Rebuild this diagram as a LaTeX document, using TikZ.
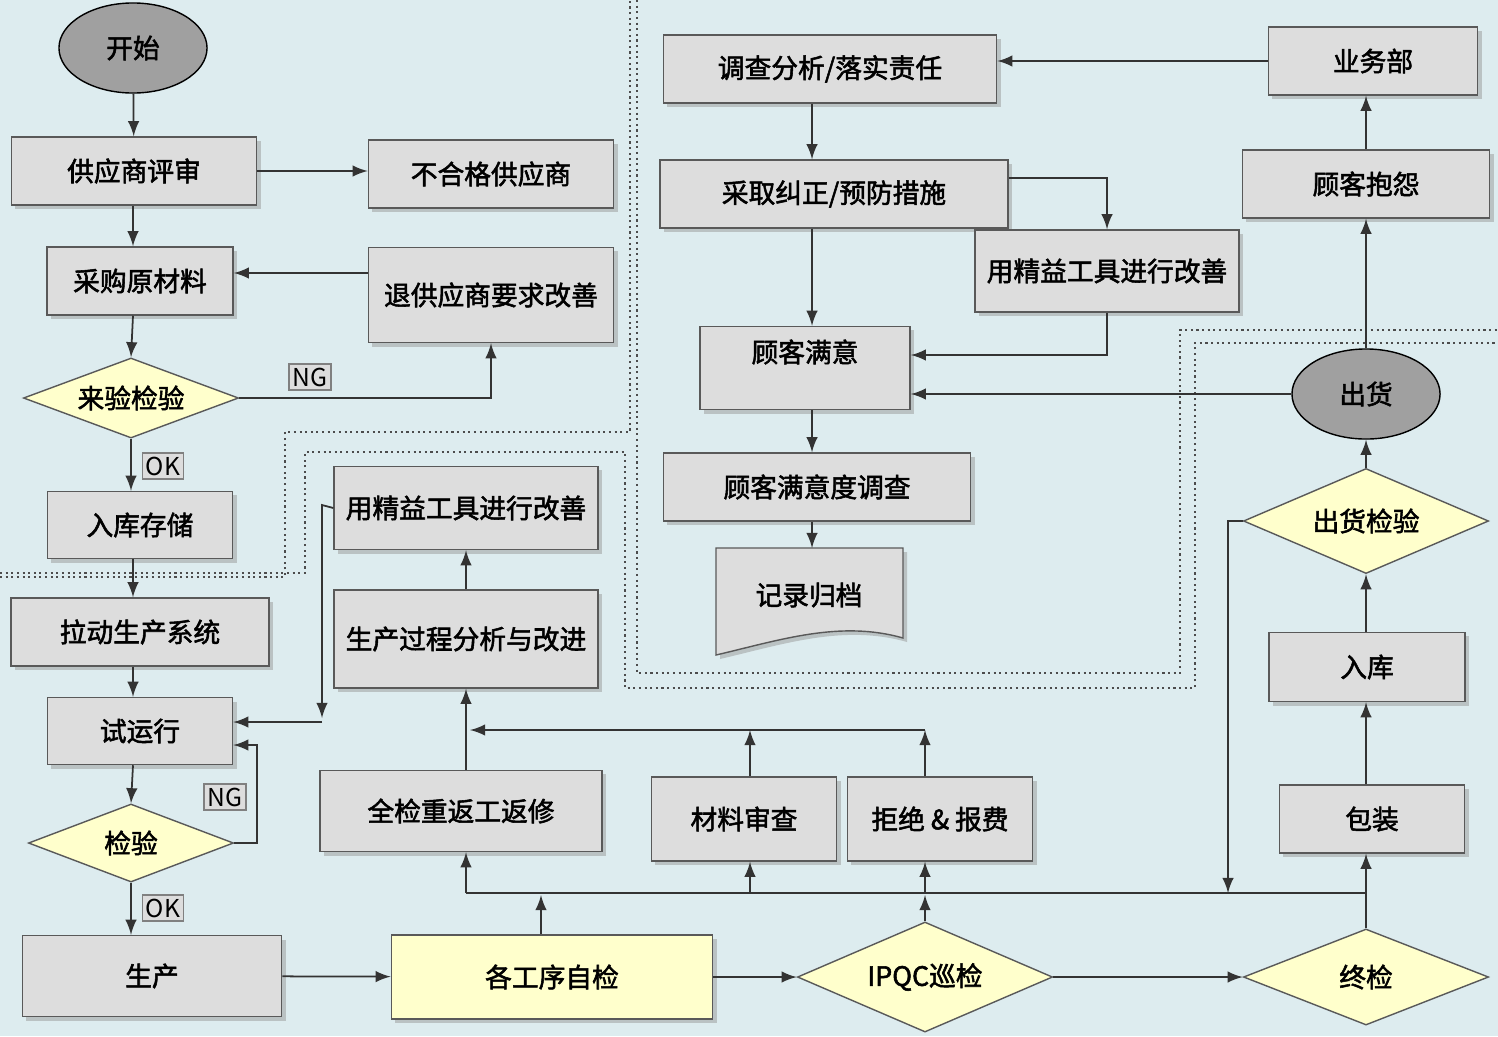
\documentclass[tikz,border=0pt]{standalone}
\usepackage{fontspec}
\setmainfont{Noto Sans CJK SC}[AutoFakeBold=2]
\usetikzlibrary{shapes.geometric,shadows}
\definecolor{bgblue}{RGB}{221,236,239}
\definecolor{boxgray}{RGB}{221,221,221}
\definecolor{dia}{RGB}{255,255,204}
\definecolor{ovalgray}{RGB}{160,160,160}
\tikzset{
  every node/.style={font=\fontsize{7.6pt}{9pt}\selectfont\bfseries},
  box/.style 2 args={rectangle,draw=gray!70!black,fill=boxgray,minimum width=#1,minimum height=#2,
    drop shadow={shadow xshift=0.4mm,shadow yshift=-0.4mm,fill=gray!80}},
  ybox/.style 2 args={box={#1}{#2},fill=dia},
  dec/.style 2 args={diamond,draw=gray!70!black,fill=dia,aspect=2.4,minimum width=#1,minimum height=#2,inner sep=0pt},
  oval/.style={ellipse,draw=black,fill=ovalgray,minimum width=1.48cm,minimum height=0.9cm},
  arr/.style={-latex,draw=black!80,line width=0.5pt},
  ln/.style={draw=black!80,line width=0.5pt},
  tag/.style={draw=gray,fill=boxgray,inner sep=1pt,font=\fontsize{7pt}{8pt}\selectfont},
  zone/.style={densely dotted,draw=black!70,line width=0.6pt}
}
\begin{document}
\begin{tikzpicture}[x=0.01cm,y=-0.01cm]
\fill[bgblue] (0,0) rectangle (1498,1036);
\useasboundingbox (0,0) rectangle (1498,1036);
% zones
\draw[zone] (0,573) -- (305,573) -- (305,452) -- (625,452) -- (625,688) -- (1195,688) -- (1195,343) -- (1498,343);
\draw[zone] (0,577) -- (285,577) -- (285,432) -- (630,432) -- (630,0);
\draw[zone] (637,0) -- (637,673) -- (1180,673) -- (1180,330) -- (1498,330);
% left column
\node[oval] (start) at (133,48) {开始};
\node[box={2.45cm}{0.68cm}] (supEval) at (134,171) {供应商评审};
\node[box={2.45cm}{0.68cm}] (badSup) at (491,174) {不合格供应商};
\node[box={1.86cm}{0.68cm}] (buy) at (140,281) {采购原材料};
\node[box={2.45cm}{0.95cm}] (retSup) at (491,295) {退供应商要求改善};
\node[dec={2.15cm}{0.8cm}] (inspect) at (131,398) {来验检验};
\node[box={1.85cm}{0.67cm}] (store) at (140,525) {入库存储};
\node[box={2.58cm}{0.68cm}] (pull) at (140,632) {拉动生产系统};
\node[box={1.85cm}{0.67cm}] (trial) at (140,731) {试运行};
\node[dec={2.05cm}{0.78cm}] (check) at (131,843) {检验};
\node[box={2.59cm}{0.81cm}] (prod) at (152,976) {生产};
% bottom row
\node[ybox={3.21cm}{0.84cm}] (selfChk) at (552,977) {各工序自检};
\node[dec={2.55cm}{1.1cm}] (ipqc) at (925,977) {IPQC巡检};
\node[dec={2.45cm}{0.96cm}] (finalChk) at (1366,977) {终检};
\node[box={2.82cm}{0.81cm}] (rework) at (461,811) {全检重返工返修};
\node[box={1.85cm}{0.84cm}] (matRev) at (744,819) {材料审查};
\node[box={1.85cm}{0.84cm}] (reject) at (940,819) {拒绝 \& 报费};
\node[box={2.47cm}{0.98cm}] (procAn) at (466,639) {生产过程分析与改进};
\node[box={2.47cm}{0.83cm}] (lean1) at (466,508) {用精益工具进行改善};
% right column
\node[box={1.85cm}{0.68cm}] (pack) at (1372,819) {包装};
\node[box={1.96cm}{0.69cm}] (inWh) at (1367,667) {入库};
\node[dec={2.45cm}{1.05cm}] (shipChk) at (1366,521) {出货检验};
\node[oval] (ship) at (1366,394) {出货};
\node[box={2.47cm}{0.68cm}] (complaint) at (1366,184) {顾客抱怨};
\node[box={2.09cm}{0.68cm}] (sales) at (1373,61) {业务部};
% upper middle
\node[box={3.33cm}{0.68cm}] (investigate) at (830,69) {调查分析/落实责任};
\node[box={3.48cm}{0.68cm}] (corrective) at (834,194) {采取纠正/预防措施};
\node[box={2.45cm}{0.82cm}] (lean2) at (1107,271) {用精益工具进行改善};
\node[box={2.1cm}{0.83cm}] (satisf) at (805,368) {};
\node at (805,352) {顾客满意};
\node[box={3.07cm}{0.68cm}] (survey) at (817,487) {顾客满意度调查};
\filldraw[draw=gray!70!black,fill=boxgray,drop shadow={shadow xshift=0.4mm,shadow yshift=-0.4mm,fill=gray!80}]
  (716,548) -- (903,548) -- (903,638) .. controls (840,620) and (780,640) .. (716,655) -- cycle;
\node (record) at (809,595) {记录归档};
\coordinate (recTop) at (812,548);
% connectors left
\draw[arr] (start) -- (supEval);
\draw[arr] (supEval) -- (supEval -| badSup.west);
\draw[arr] (supEval.south -| 133,0) -- (buy.north -| 133,0);
\draw[arr] (retSup.west |- 0,273) -- (buy.east |- 0,273);
\draw[arr] (buy.south -| 133,0) -- (inspect.north);
\draw[arr] (inspect.east) -| (retSup.south);
\node[tag] at (310,377) {NG};
\draw[arr] (inspect.south) -- (store.north -| inspect);
\node[tag] at (163,466) {OK};
\draw[arr] (store.south -| 133,0) -- (pull.north -| 133,0);
\draw[arr] (pull.south -| 133,0) -- (trial.north -| 133,0);
\draw[arr] (trial.south -| 133,0) -- (check.north);
\draw[arr] (check.east) -- (257,843) -- (257,745) -- (trial.east |- 0,745);
\node[tag] at (225,797) {NG};
\draw[arr] (check.south) -- (prod.north -| check);
\node[tag] at (163,908) {OK};
\draw[arr] (lean1.west) -- (322,505) -- (322,718);
\draw[arr] (322,722) -- (trial.east |- 0,722);
% bottom
\draw[arr] (prod) -- (selfChk);
\draw[arr] (selfChk) -- (ipqc);
\draw[arr] (ipqc) -- (finalChk);
\draw[ln] (466,893) -- (1366,893);
\draw[arr] (selfChk.north -| 541,0) -- (541,895);
\draw[arr] (ipqc.north) -- (925,895);
\draw[ln] (finalChk.north) -- (1366,893);
\draw[arr] (466,893) -- (rework.south -| 466,0);
\draw[arr] (750,893) -- (matRev.south -| 750,0);
\draw[arr] (925,893) -- (reject.south -| 925,0);
\draw[arr] (shipChk.west) -- (1228,521) -- (1228,893);
\draw[arr] (rework.north -| 466,0) -- (procAn.south);
\draw[arr] (procAn) -- (lean1);
\draw[arr] (925,730) -- (470,730);
\draw[arr] (matRev.north -| 750,0) -- (750,730);
\draw[arr] (reject.north -| 925,0) -- (925,730);
% right
\draw[arr] (finalChk.north -| 1366,0) -- (pack.south -| 1366,0);
\draw[arr] (pack.north -| 1366,0) -- (inWh.south -| 1366,0);
\draw[arr] (inWh.north -| 1366,0) -- (shipChk.south);
\draw[arr] (shipChk.north) -- (ship.south);
\draw[arr] (ship.north) -- (complaint.south);
\draw[arr] (complaint.north) -- (sales.south -| 1366,0);
\draw[arr] (sales.west) -- (investigate.east |- sales.west);
\draw[arr] (investigate.south -| 812,0) -- (corrective.north -| 812,0);
\draw[arr] (corrective.south -| 812,0) -- (satisf.north -| 812,0);
\draw[arr] (corrective.east |- 0,178) -| (lean2.north);
\draw[arr] (lean2.south) |- (satisf.east |- 0,355);
\draw[arr] (ship.west) -- (satisf.east |- ship.west);
\draw[arr] (satisf.south -| 812,0) -- (survey.north -| 812,0);
\draw[arr] (survey.south -| 812,0) -- (recTop);
\end{tikzpicture}
\end{document}
